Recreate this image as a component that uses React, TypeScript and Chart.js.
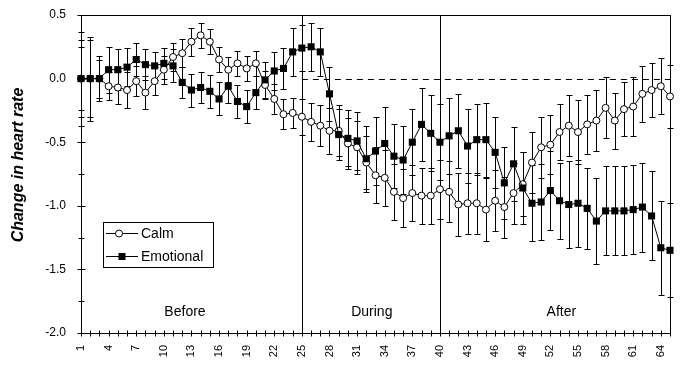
import React, { useEffect, useRef } from "react";
import { Chart, registerables } from "chart.js";

Chart.register(...registerables);

// ---- data ----
const sessions = [
  1, 2, 3, 4, 5, 6, 7, 8, 9, 10, 11, 12, 13, 14, 15, 16, 17, 18, 19, 20,
  21, 22, 23, 24, 25, 26, 27, 28, 29, 30, 31, 32, 33, 34, 35, 36, 37, 38, 39, 40,
  41, 42, 43, 44, 45, 46, 47, 48, 49, 50, 51, 52, 53, 54, 55, 56, 57, 58, 59, 60,
  61, 62, 63, 64, 65,
];

const calm = [
  0.0, 0.0, 0.0, -0.06, -0.07, -0.09, -0.02, -0.11, -0.02, 0.07,
  0.17, 0.2, 0.29, 0.34, 0.29, 0.15, 0.07, 0.12, 0.08, 0.12,
  -0.05, -0.16, -0.28, -0.27, -0.3, -0.34, -0.37, -0.41, -0.41, -0.51,
  -0.54, -0.66, -0.76, -0.78, -0.89, -0.94, -0.9, -0.92, -0.92, -0.87,
  -0.89, -0.99, -0.98, -0.98, -1.03, -0.96, -1.01, -0.9, -0.83, -0.66,
  -0.54, -0.52, -0.42, -0.37, -0.42, -0.36, -0.33, -0.23, -0.33, -0.24,
  -0.22, -0.12, -0.09, -0.06, -0.14,
];

const calmErr = [
  0.3, 0.3, 0.15, 0.11, 0.13, 0.14, 0.12, 0.13, 0.11, 0.11,
  0.11, 0.11, 0.11, 0.1, 0.1, 0.1, 0.1, 0.1, 0.1, 0.1,
  0.11, 0.12, 0.12, 0.12, 0.14, 0.15, 0.16, 0.18, 0.2, 0.2,
  0.21, 0.21, 0.22, 0.22, 0.22, 0.23, 0.22, 0.22, 0.22, 0.23,
  0.24, 0.25, 0.24, 0.24, 0.25, 0.24, 0.24, 0.24, 0.25, 0.24,
  0.24, 0.23, 0.22, 0.24, 0.25, 0.23, 0.24, 0.24, 0.22, 0.21,
  0.23, 0.22, 0.21, 0.22, 0.25,
];

const emotional = [
  0.0, 0.0, 0.0, 0.07, 0.07, 0.09, 0.15, 0.11, 0.1, 0.12,
  0.1, -0.03, -0.09, -0.07, -0.1, -0.16, -0.06, -0.18, -0.22, -0.11,
  -0.01, 0.06, 0.08, 0.21, 0.24, 0.25, 0.21, -0.12, -0.44, -0.47,
  -0.49, -0.63, -0.57, -0.51, -0.61, -0.64, -0.5, -0.36, -0.43, -0.5,
  -0.45, -0.41, -0.53, -0.48, -0.48, -0.58, -0.82, -0.67, -0.86, -0.98,
  -0.97, -0.88, -0.96, -0.99, -0.98, -1.02, -1.12, -1.04, -1.04, -1.04,
  -1.03, -1.01, -1.08, -1.33, -1.35,
];

const emotionalErr = [
  0.37, 0.33, 0.18, 0.18, 0.16, 0.15, 0.13, 0.12, 0.11, 0.12,
  0.13, 0.12, 0.13, 0.12, 0.13, 0.13, 0.13, 0.13, 0.13, 0.13,
  0.14, 0.15, 0.16, 0.19, 0.18, 0.19, 0.19, 0.21, 0.2, 0.22,
  0.23, 0.26, 0.27, 0.29, 0.25, 0.27, 0.26, 0.29, 0.3, 0.3,
  0.3, 0.29, 0.29, 0.28, 0.29, 0.28, 0.28, 0.29, 0.28, 0.3,
  0.3, 0.31, 0.3, 0.34, 0.34, 0.32, 0.34, 0.35, 0.35, 0.35,
  0.35, 0.35, 0.35, 0.37, 0.37,
];

const xTickLabels = ["1", "4", "7", "10", "13", "16", "19", "22", "25", "28", "31", "34", "37", "40", "43", "46", "49", "52", "55", "58", "61", "64"];
const yTickValues = [0.5, 0.0, -0.5, -1.0, -1.5, -2.0];
const yMinorTicks = [0.25, -0.25, -0.75, -1.25, -1.75];
const phaseBoundaries = [25, 40];
const phaseNames = ["Before", "During", "After"];
const phaseLabelCenters = [12.3, 32.6, 53.2];
const seriesNames = ["Calm", "Emotional"];
const yTitle = "Change in heart rate";

const FONT = "'Liberation Sans', Arial, sans-serif";

const decorPlugin = {
  id: "decor",
  beforeDatasetsDraw(chart: any) {
    const { ctx, chartArea: a, scales } = chart;
    const x = scales.x;
    const y = scales.y;
    ctx.save();
    ctx.strokeStyle = "#000";
    ctx.lineWidth = 1;
    const line = (x1: number, y1: number, x2: number, y2: number) => {
      ctx.beginPath();
      ctx.moveTo(x1, y1);
      ctx.lineTo(x2, y2);
      ctx.stroke();
    };
    const L = Math.round(a.left) + 0.5;
    const R = Math.round(a.right) + 0.5;
    const T = Math.round(a.top) + 0.5;
    const B = Math.round(a.bottom) + 0.5;
    // frame
    ctx.strokeRect(L, T, R - L, B - T);
    // phase boundaries
    phaseBoundaries.forEach((b) => {
      const px = Math.round(x.getPixelForValue(b)) + 0.5;
      line(px, T, px, B);
    });
    // dashed zero line from first boundary
    const y0 = Math.round(y.getPixelForValue(0)) + 0.5;
    ctx.setLineDash([6, 5]);
    line(x.getPixelForValue(phaseBoundaries[0]), y0, R, y0);
    ctx.setLineDash([]);
    // axis ticks (crossing)
    sessions.forEach((s) => {
      const px = Math.round(x.getPixelForValue(s)) + 0.5;
      line(px, B - 3, px, B + 3);
    });
    yTickValues.forEach((v) => {
      const py = Math.round(y.getPixelForValue(v)) + 0.5;
      line(L - 4, py, L + 4, py);
    });
    yMinorTicks.forEach((v) => {
      const py = Math.round(y.getPixelForValue(v)) + 0.5;
      line(L - 3, py, L + 3, py);
    });
    // error bars
    const drawErr = (vals: number[], errs: number[]) => {
      vals.forEach((v, i) => {
        const px = Math.round(x.getPixelForValue(sessions[i])) + 0.5;
        const pt = Math.round(y.getPixelForValue(v + errs[i])) + 0.5;
        const pb = Math.round(y.getPixelForValue(v - errs[i])) + 0.5;
        line(px, pt, px, pb);
        line(px - 3, pt, px + 3, pt);
        line(px - 3, pb, px + 3, pb);
      });
    };
    drawErr(calm, calmErr);
    drawErr(emotional, emotionalErr);
    ctx.restore();
  },
  afterDraw(chart: any) {
    const { ctx, chartArea: a, scales } = chart;
    const x = scales.x;
    ctx.save();
    ctx.fillStyle = "#000";
    ctx.strokeStyle = "#000";
    ctx.lineWidth = 1;
    // y title
    ctx.save();
    ctx.translate(19, 165);
    ctx.rotate(-Math.PI / 2);
    ctx.font = `italic bold 16px ${FONT}`;
    ctx.textAlign = "center";
    ctx.textBaseline = "middle";
    ctx.fillText(yTitle, 0, 0);
    ctx.restore();
    // phase labels
    ctx.font = `14px ${FONT}`;
    ctx.textAlign = "center";
    ctx.textBaseline = "middle";
    phaseNames.forEach((n, i) => {
      ctx.fillText(n, x.getPixelForValue(phaseLabelCenters[i]), a.bottom - 21);
    });
    // legend
    const lx = 103.5, ly = 222.5, lw = 110, lh = 45;
    ctx.fillStyle = "#fff";
    ctx.fillRect(lx, ly, lw, lh);
    ctx.strokeRect(lx, ly, lw, lh);
    const rows = [233.5, 256.5];
    rows.forEach((ry, i) => {
      ctx.beginPath();
      ctx.moveTo(106, ry);
      ctx.lineTo(138, ry);
      ctx.stroke();
      if (i === 0) {
        ctx.beginPath();
        ctx.arc(119, ry, 3.5, 0, Math.PI * 2);
        ctx.fillStyle = "#fff";
        ctx.fill();
        ctx.stroke();
      } else {
        ctx.fillStyle = "#000";
        ctx.fillRect(118.5, ry - 3.5, 7, 7);
      }
      ctx.fillStyle = "#000";
      ctx.font = `14px ${FONT}`;
      ctx.textAlign = "left";
      ctx.textBaseline = "middle";
      ctx.fillText(seriesNames[i], 141, ry + 1);
    });
    ctx.restore();
  },
};

export default function App() {
  const ref = useRef<HTMLCanvasElement>(null);
  useEffect(() => {
    const canvas = ref.current;
    if (!canvas) return;
    const chart = new Chart(canvas, {
      type: "line",
      data: {
        datasets: [
          {
            label: seriesNames[1],
            data: sessions.map((s, i) => ({ x: s, y: emotional[i] })),
            borderColor: "#000",
            borderWidth: 1,
            backgroundColor: "#000",
            pointStyle: "rect",
            pointRadius: 5,
            pointBorderWidth: 0,
            pointBackgroundColor: "#000",
            tension: 0,
            clip: false as any,
          },
          {
            label: seriesNames[0],
            data: sessions.map((s, i) => ({ x: s, y: calm[i] })),
            borderColor: "#000",
            borderWidth: 1,
            backgroundColor: "#fff",
            pointStyle: "circle",
            pointRadius: 3.5,
            pointBorderWidth: 1,
            pointBackgroundColor: "#fff",
            pointBorderColor: "#000",
            tension: 0,
            clip: false as any,
          },
        ],
      },
      options: {
        animation: false,
        responsive: false,
        devicePixelRatio: 1,
        layout: { padding: { top: 15, right: 17, left: 0, bottom: 0 } },
        plugins: { legend: { display: false }, tooltip: { enabled: false } },
        scales: {
          x: {
            type: "linear",
            min: 1,
            max: 65,
            grid: { display: false, drawTicks: false },
            border: { display: false },
            afterBuildTicks: (scale: any) => {
              scale.ticks = sessions.map((v) => ({ value: v }));
            },
            afterFit: (scale: any) => {
              scale.height = 32;
              scale.paddingLeft = 0;
              scale.paddingRight = 0;
            },
            ticks: {
              autoSkip: false,
              minRotation: 90,
              maxRotation: 90,
              padding: 12,
              color: "#000",
              font: { family: FONT, size: 11 },
              callback: (v: any) => (xTickLabels.includes(String(v)) ? String(v) : ""),
            },
          },
          y: {
            type: "linear",
            min: -2,
            max: 0.5,
            grid: { display: false, drawTicks: false },
            border: { display: false },
            afterBuildTicks: (scale: any) => {
              scale.ticks = yTickValues.map((v) => ({ value: v }));
            },
            afterFit: (scale: any) => {
              scale.width = 81;
              scale.paddingTop = 0;
              scale.paddingBottom = 0;
            },
            ticks: {
              padding: 15,
              color: "#000",
              font: { family: FONT, size: 12 },
              callback: (v: any) => Number(v).toFixed(1),
            },
          },
        },
      },
      plugins: [decorPlugin],
    });
    return () => chart.destroy();
  }, []);
  return (
    <div style={{ position: "absolute", left: 0, top: 0, width: 687, height: 365, background: "#fff" }}>
      <canvas ref={ref} width={687} height={365} style={{ display: "block" }} />
    </div>
  );
}
